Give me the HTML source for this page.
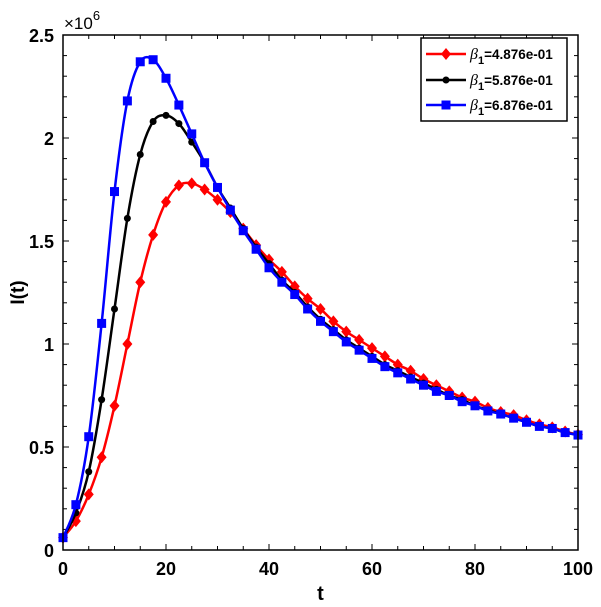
<!DOCTYPE html>
<html><head><meta charset="utf-8"><style>
body{margin:0;background:#fff;}
svg{display:block;font-family:"Liberation Sans",Arial,sans-serif;font-weight:bold;}
</style></head><body>
<svg id="chart" width="601" height="607" xmlns="http://www.w3.org/2000/svg"></svg>
<script>
const tValues=[0,2.5,5,7.5,10,12.5,15,17.5,20,22.5,25,27.5,30,32.5,35,37.5,40,42.5,45,47.5,50,52.5,55,57.5,60,62.5,65,67.5,70,72.5,75,77.5,80,82.5,85,87.5,90,92.5,95,97.5,100];
const redValues=[0.06,0.14,0.27,0.45,0.70,1.00,1.30,1.53,1.69,1.77,1.78,1.75,1.70,1.64,1.56,1.48,1.41,1.35,1.28,1.22,1.17,1.11,1.06,1.02,0.98,0.94,0.90,0.87,0.83,0.80,0.77,0.74,0.72,0.69,0.67,0.655,0.63,0.61,0.595,0.575,0.56];
const blackValues=[0.06,0.18,0.38,0.73,1.17,1.61,1.92,2.08,2.11,2.07,1.98,1.88,1.76,1.66,1.56,1.47,1.39,1.31,1.25,1.18,1.12,1.07,1.02,0.98,0.94,0.90,0.87,0.84,0.81,0.78,0.75,0.73,0.70,0.68,0.66,0.64,0.62,0.60,0.59,0.57,0.56];
const blueValues=[0.06,0.22,0.55,1.10,1.74,2.18,2.37,2.38,2.29,2.16,2.02,1.88,1.76,1.65,1.55,1.46,1.37,1.30,1.24,1.17,1.11,1.06,1.01,0.97,0.93,0.89,0.86,0.83,0.80,0.77,0.75,0.72,0.70,0.675,0.66,0.64,0.62,0.60,0.59,0.57,0.558];
const xTicks=[0,20,40,60,80,100];
const yTicks=[0,0.5,1,1.5,2,2.5];
const yTickLabels=["0","0.5","1","1.5","2","2.5"];
const legendLabels=["4.876e-01","5.876e-01","6.876e-01"];

const L=63,R=578,T=35,B=550;
const sx=t=>L+(t/100)*(R-L);
const sy=v=>B-(v/2.5)*(B-T);
const svg=document.getElementById('chart');
const NS='http://www.w3.org/2000/svg';
function mk(tag,attrs,parent){const e=document.createElementNS(NS,tag);for(const k in attrs)e.setAttribute(k,attrs[k]);(parent||svg).appendChild(e);return e;}

for(let t=0;t<=100;t+=5){const x=sx(t),len=t%20===0?6:4;
 let a=mk('line',{x1:x,y1:B,x2:x,y2:B-len,stroke:'#000','stroke-width':1});
 
 mk('line',{x1:x,y1:T,x2:x,y2:T+len,stroke:'#000','stroke-width':1});}
for(let i=0;i<=25;i++){const v=i/10,y=sy(v),len=i%5===0?6:4;
 let a=mk('line',{x1:L,y1:y,x2:L+len,y2:y,stroke:'#000','stroke-width':1});
 
 mk('line',{x1:R,y1:y,x2:R-len,y2:y,stroke:'#000','stroke-width':1});}
xTicks.forEach(t=>{const e=mk('text',{x:sx(t),y:B+25,'text-anchor':'middle','font-size':18});e.textContent=t;
 });
yTicks.forEach((v,i)=>{const e=mk('text',{x:L-9,y:sy(v)+7,'text-anchor':'end','font-size':18});e.textContent=yTickLabels[i];
 });

function smooth(pts){let d='M'+pts[0][0]+','+pts[0][1];
 for(let i=0;i<pts.length-1;i++){const p0=pts[i-1]||pts[i],p1=pts[i],p2=pts[i+1],p3=pts[i+2]||p2;
  const c1=[p1[0]+(p2[0]-p0[0])/6,p1[1]+(p2[1]-p0[1])/6],c2=[p2[0]-(p3[0]-p1[0])/6,p2[1]-(p3[1]-p1[1])/6];
  d+=' C'+c1+' '+c2+' '+p2;}return d;}
function marker(type,x,y,color,parent){
 if(type==='d')return mk('polygon',{points:`${x},${y-6} ${x+5},${y} ${x},${y+6} ${x-5},${y}`,fill:color},parent);
 if(type==='o')return mk('circle',{cx:x,cy:y,r:3.5,fill:color},parent);
 return mk('rect',{x:x-4.5,y:y-4.5,width:9,height:9,fill:color},parent);}
const series=[[redValues,'#ff0000','d','series-red'],[blackValues,'#000','o','series-black'],[blueValues,'#0000ff','s','series-blue']];
series.forEach(([vals,c,m,name])=>{
 const g=mk('g',{});
 const pts=tValues.map((t,i)=>[sx(t),sy(vals[i])]);
 mk('path',{d:smooth(pts),fill:'none',stroke:c,'stroke-width':2.5},g);
 pts.forEach(p=>{const e=marker(m,p[0],p[1],c,g);});
});

let frame=mk('rect',{x:L,y:T,width:R-L,height:B-T,fill:'none',stroke:'#000','stroke-width':1.5});


const lg=mk('g',{});
mk('rect',{x:421,y:38,width:146,height:83,fill:'#fff',stroke:'#000','stroke-width':1.5},lg);
[54,80,105].forEach((y,i)=>{const [,c,m]=series[i];
 const eg=mk('g',{},lg);
 mk('line',{x1:426,y1:y,x2:466,y2:y,stroke:c,'stroke-width':2.5},eg);marker(m,446,y,c,eg);
 const t=mk('text',{x:470,y:y+5,'font-size':13.5},eg);
 t.innerHTML='<tspan font-family="Liberation Serif,serif" font-style="italic" font-weight="normal" font-size="16">β</tspan><tspan font-size="11" dy="5">1</tspan><tspan dy="-5">='+legendLabels[i]+'</tspan>';});

let xt=mk('text',{x:(L+R)/2,y:600,'text-anchor':'middle','font-size':20});xt.textContent='t';

let yt=mk('text',{x:0,y:0,'text-anchor':'middle','font-size':19,transform:`translate(24,${(T+B)/2}) rotate(-90)`});yt.textContent='I(t)';

let ex=mk('text',{x:64,y:29,'font-size':17,'font-weight':'normal'});ex.innerHTML='×10<tspan dy="-9" font-size="13">6</tspan>';

</script>
</body></html>
